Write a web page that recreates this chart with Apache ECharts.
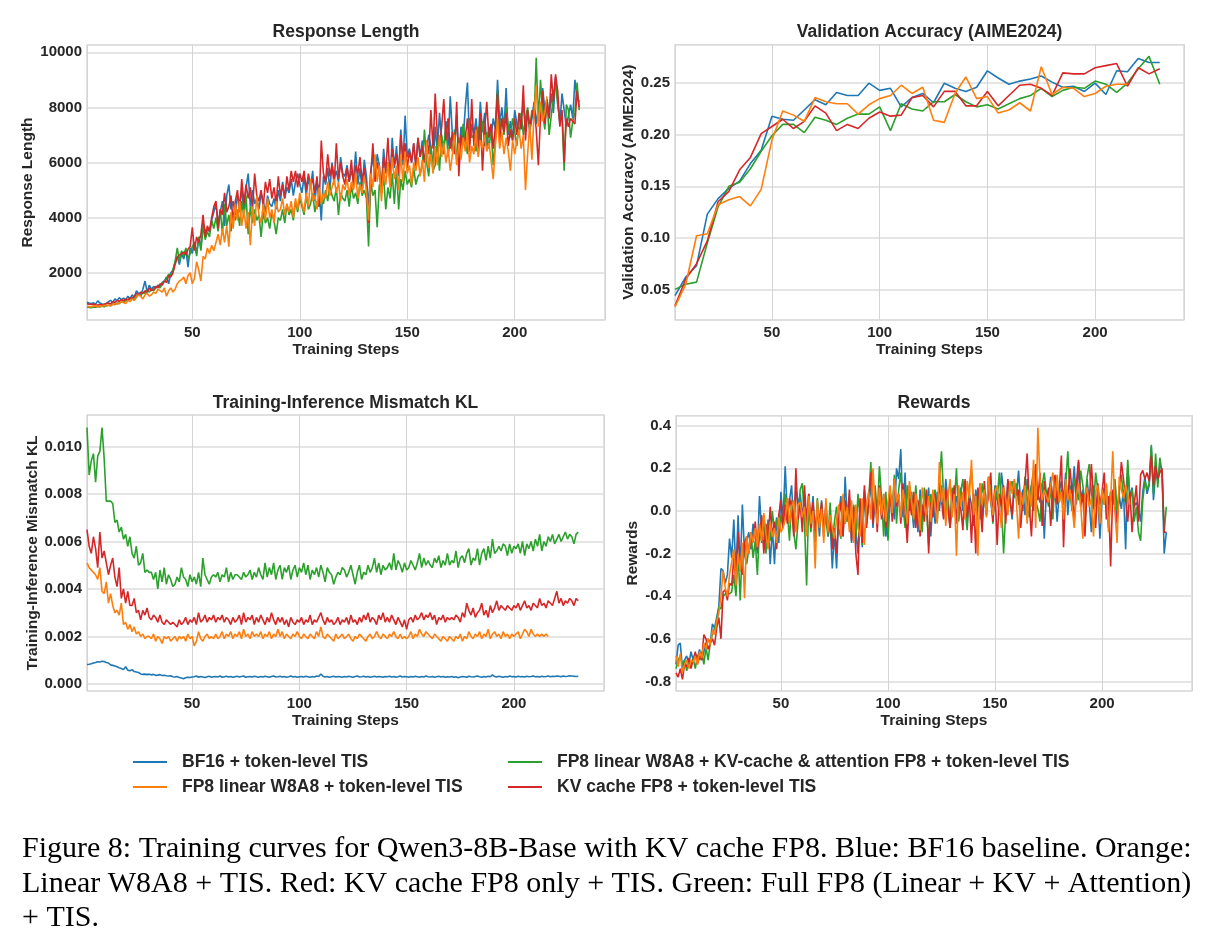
<!DOCTYPE html>
<html><head><meta charset="utf-8">
<script src="https://cdn.jsdelivr.net/npm/echarts@6/dist/echarts.min.js"></script>
<style>html,body{margin:0;padding:0;background:#fff}#c{width:1217px;height:943px}</style>
</head><body><div id="c"></div>
<script>
const seriesNames = ['BF16 + token-level TIS','FP8 linear W8A8 + token-level TIS','FP8 linear W8A8 + KV-cache & attention FP8 + token-level TIS','KV cache FP8 + token-level TIS'];
const panelTitles = ['Response Length','Validation Accuracy (AIME2024)','Training-Inference Mismatch KL','Rewards'];
const yNames = ['Response Length','Validation Accuracy (AIME2024)','Training-Inference Mismatch KL','Rewards'];
const xName = 'Training Steps';
const captionLines = ['Figure 8: Training curves for Qwen3-8B-Base with KV cache FP8. Blue: BF16 baseline. Orange:','Linear W8A8 + TIS. Red: KV cache FP8 only + TIS. Green: Full FP8 (Linear + KV + Attention)','+ TIS.'];

// ---- Response Length (steps 1..) ----
const respBlue = [930,900,880,910,860,980,900,870,850,890,950,1000,920,1050,980,1100,1020,1080,1000,1150,1050,1200,1100,1350,1250,1200,1400,1700,1300,1550,1400,1500,1450,1550,1500,1650,1700,1850,1600,2000,2100,2400,2600,2300,2700,2500,2850,2200,2900,2700,3100,2700,3300,2900,3800,3500,3600,3500,3900,4200,4500,3800,4200,4600,3700,4800,5200,4300,4600,4100,4800,4500,5000,4200,5100,5600,4400,5000,4500,4700,4300,4900,4600,4200,4800,4500,4400,4700,4300,5000,4600,5300,4700,5100,4900,5400,4800,5300,5600,5200,4900,5500,4800,5400,5100,5700,4600,5300,5000,3900,5500,5200,5800,5000,6000,5400,5700,5300,6200,5600,5500,5900,5300,5700,5400,6400,5200,5800,5000,6100,5500,4400,5700,6200,5400,6300,5900,5100,6500,5600,6000,5300,6900,5800,6600,5500,7200,5900,7700,6200,6500,6000,6700,5800,6900,6200,6800,6000,6500,7000,6600,5800,7300,6400,7800,6800,6300,7500,6600,8400,7000,6500,7700,6200,7300,6800,8000,8900,6700,7400,7000,7600,6600,8200,7100,7800,6500,7300,6900,7600,7200,9000,7400,8000,7200,8700,7000,7500,6800,7900,7400,7000,7600,8100,7300,7800,7100,7600,8200,7400,8000,7500,8700,7900,8300,7600,8500,7800,9100,8200,7400,8500,7900,7300,7700,8100,7600,9000,8400,8200];
const respOrange = [780,770,760,800,790,760,800,780,820,790,830,800,850,880,860,900,950,920,880,1000,950,1050,1000,1100,1200,1150,1050,1200,1250,1150,1200,1300,1250,1400,1350,1300,1450,1150,1350,1450,1300,1400,1600,1700,1750,1850,1600,1900,2000,1600,1800,2400,2100,1700,2600,2500,2900,2700,3000,2800,3100,3400,3000,3600,3100,3700,2950,4200,3600,4500,3900,4600,3700,4300,3600,4200,3000,4400,3700,4800,4100,3800,4500,3900,4700,4000,4300,3800,4600,4200,4300,4700,4100,4500,4200,4600,4000,4700,4300,4900,4500,4200,4900,4400,5400,4600,4800,4300,5100,4500,4900,4700,5300,4800,5100,5400,4900,5300,4600,5200,5000,5400,4800,5300,5000,5600,4700,5200,4900,5500,5000,3900,5600,5100,6300,5300,5900,4600,5800,5200,6000,5100,6200,5400,5900,5000,6300,5300,6400,5600,5900,5200,6000,5700,6200,5500,6100,5300,6800,5800,6300,5600,6600,5900,7000,6200,6700,6000,6500,5700,6300,7000,5900,6700,6100,6900,6400,7100,6000,6600,6300,7200,6200,6800,6500,7000,6400,6700,6100,5400,6600,7600,6500,7100,6300,6900,6400,5700,6800,6300,6800,7200,6500,7000,5000,6300,7400,6100,7800,8800,7300,8200,7500,7800,8400];
const respGreen = [760,740,730,760,750,780,760,790,770,800,820,800,870,840,900,880,950,920,1000,980,1050,1100,1000,1150,1200,1150,1300,1250,1350,1300,1400,1350,1450,1500,1450,1600,1700,1800,1950,1900,2100,2400,2900,2400,2800,2600,2900,2500,2700,2950,3100,2600,3300,2800,3700,3200,3500,3300,3900,3600,4000,3500,4300,3400,4500,3700,4100,3500,4200,3900,4300,3700,4600,4000,4800,3400,4400,3800,4300,3900,4100,3300,4200,3800,4000,3600,4200,3900,3400,4000,3900,4300,3800,4500,4100,4300,3900,4600,4200,4700,4400,4100,4800,4300,4500,4900,4200,4600,4400,4700,4500,5000,4600,5200,4800,4600,5100,4100,4900,4700,4600,5000,4400,5200,4700,4900,4500,5300,4800,5000,4700,2950,5300,4800,5000,3650,5200,4900,5500,4300,5100,4700,5600,4500,5800,4300,5400,5000,5700,5200,5400,5100,5800,5200,5500,5600,5900,7200,6000,5500,6600,5700,5900,6800,5700,7000,6500,7300,6200,6900,6400,7200,6100,6900,6600,7400,6800,6300,7600,6900,7000,6400,7300,6800,7500,6600,7100,6500,7200,5900,6800,8600,7200,7600,7000,8000,7300,6900,7600,7100,6600,7500,7800,7000,7600,8000,7200,7900,7600,9800,7500,9000,7800,7200,8300,7000,7700,8400,8900,8100,7500,7700,5700,8100,7900,6900,7500,7800,8900,7900];
const respRed = [880,860,850,870,840,830,850,820,860,880,900,870,950,920,1000,960,1030,980,1050,1000,1100,1050,1150,1250,1200,1300,1250,1350,1300,1450,1350,1400,1500,1450,1600,1550,1700,1650,1900,1850,2000,2300,2550,2650,2700,2750,2650,2850,2950,3650,2800,3300,3100,3400,4100,3300,3700,3500,4000,4400,4600,3600,4300,4100,4900,4200,4400,4800,3800,4600,5000,4200,5400,4500,5200,4700,5100,4300,5600,4800,4600,5000,4400,5300,4900,5400,4700,5100,4500,5500,4800,5200,4700,5500,5000,5700,5300,5700,5100,5600,5300,5700,5000,5600,5200,5400,4900,5500,4400,6800,5600,5300,6300,5500,5900,5200,6700,5400,6000,5500,5200,5800,5300,6100,5100,5900,5600,6200,5300,5800,5100,3800,5500,6700,5300,6000,5600,4900,6200,5700,6900,5400,6500,5900,6300,5600,7000,6100,6700,5800,6400,6000,6700,5900,6900,6200,6600,6000,6800,6300,7900,6500,8500,7000,6600,7300,8300,6800,7600,6500,7100,6300,8200,5500,7000,6700,6900,7600,6400,8300,6600,7300,6300,7800,5700,7200,8200,6900,7400,6500,7300,8500,6700,7600,7100,7800,6600,7200,6800,7600,7000,7800,7200,8800,6800,7900,7300,7700,8000,7200,5900,7700,8600,7400,8300,7600,9200,8200,9200,8600,7300,7900,6000,7600,7300,7600,7500,7400,8600,8000];

// ---- Validation accuracy (every 5 steps) ----
const valSteps = [5,10,15,20,25,30,35,40,45,50,55,60,65,70,75,80,85,90,95,100,105,110,115,120,125,130,135,140,145,150,155,160,165,170,175,180,185,190,195,200,205,210,215,220,225,230];
const valBlue = [0.044,0.062,0.073,0.123,0.138,0.148,0.155,0.172,0.185,0.218,0.215,0.214,0.224,0.234,0.229,0.241,0.238,0.238,0.250,0.243,0.245,0.227,0.236,0.240,0.231,0.250,0.245,0.242,0.246,0.262,0.255,0.249,0.252,0.254,0.257,0.251,0.246,0.247,0.242,0.250,0.239,0.262,0.261,0.274,0.270,0.270];
const valOrange = [0.033,0.055,0.102,0.104,0.132,0.137,0.140,0.131,0.147,0.195,0.223,0.219,0.213,0.236,0.232,0.230,0.230,0.220,0.229,0.235,0.238,0.248,0.240,0.246,0.214,0.212,0.240,0.256,0.235,0.237,0.221,0.224,0.231,0.223,0.266,0.239,0.246,0.245,0.237,0.240,0.247,0.249,0.249];
const valGreen = [0.050,0.055,0.057,0.095,0.130,0.150,0.154,0.167,0.184,0.199,0.210,0.210,0.202,0.217,0.214,0.210,0.216,0.220,0.220,0.227,0.204,0.230,0.225,0.223,0.232,0.232,0.239,0.232,0.227,0.229,0.225,0.230,0.235,0.238,0.245,0.237,0.243,0.246,0.245,0.252,0.249,0.241,0.250,0.264,0.276,0.249];
const valRed = [0.034,0.060,0.075,0.097,0.135,0.145,0.166,0.178,0.201,0.208,0.215,0.206,0.213,0.228,0.221,0.204,0.210,0.206,0.216,0.222,0.218,0.219,0.236,0.238,0.227,0.242,0.242,0.228,0.228,0.242,0.228,0.238,0.248,0.249,0.245,0.238,0.260,0.259,0.259,0.265,0.267,0.269,0.247,0.265,0.259,0.264];

// ---- Training-inference mismatch KL (steps 1..) ----
const klBlue = [.00082,.00083,.00085,.00088,.00090,.00093,.00092,.00095,.00094,.00090,.00088,.00080,.00078,.00075,.00072,.00068,.00065,.00060,.00072,.00058,.00055,.00060,.00052,.00050,.00048,.00042,.00040,.00041,.00039,.00041,.00038,.00040,.00036,.00037,.00039,.00035,.00036,.00034,.00033,.00034,.00030,.00029,.00031,.00027,.00025,.00022,.00026,.00028,.00027,.00029,.00030,.00033,.00028,.00031,.00029,.00027,.00030,.00032,.00028,.00030,.00031,.00029,.00033,.00028,.00030,.00032,.00029,.00031,.00028,.00030,.00032,.00029,.00031,.00033,.00028,.00030,.00031,.00029,.00032,.00030,.00028,.00031,.00029,.00032,.00030,.00028,.00031,.00033,.00029,.00030,.00032,.00029,.00031,.00028,.00030,.00033,.00029,.00031,.00028,.00030,.00031,.00029,.00032,.00030,.00028,.00031,.00029,.00033,.00031,.00042,.00032,.00029,.00031,.00028,.00030,.00032,.00029,.00031,.00030,.00028,.00031,.00029,.00032,.00030,.00028,.00031,.00033,.00029,.00030,.00032,.00029,.00031,.00028,.00030,.00032,.00029,.00031,.00030,.00028,.00031,.00030,.00032,.00029,.00031,.00028,.00030,.00033,.00029,.00031,.00030,.00028,.00031,.00029,.00032,.00030,.00028,.00031,.00029,.00033,.00030,.00029,.00031,.00028,.00030,.00032,.00029,.00031,.00028,.00030,.00029,.00031,.00028,.00030,.00026,.00029,.00031,.00030,.00028,.00032,.00030,.00029,.00031,.00033,.00030,.00028,.00031,.00029,.00032,.00030,.00038,.00031,.00029,.00032,.00030,.00028,.00031,.00029,.00033,.00030,.00031,.00029,.00032,.00030,.00031,.00029,.00032,.00030,.00031,.00033,.00030,.00031,.00029,.00032,.00030,.00031,.00033,.00030,.00032,.00031,.00033,.00032,.00030,.00033,.00031,.00032,.00034,.00033,.00032,.00031,.00032];
const klOrange = [.0051,.0049,.0048,.0047,.0046,.0044,.0049,.0039,.0038,.0043,.0034,.0038,.0033,.0030,.0031,.0029,.0034,.0025,.0026,.0023,.0025,.0022,.0024,.0021,.0022,.0020,.0021,.0019,.0020,.0020,.0019,.0021,.0018,.0020,.0019,.0017,.0020,.0019,.0020,.0018,.0019,.0020,.0018,.0020,.0019,.0020,.0018,.0021,.0019,.0020,.0016,.0018,.0022,.0019,.0018,.0020,.0021,.0019,.0020,.0019,.0021,.0019,.0020,.0022,.0019,.0021,.0020,.0022,.0019,.0021,.0020,.0022,.0019,.0023,.0020,.0021,.0019,.0022,.0020,.0021,.0020,.0022,.0019,.0021,.0020,.0022,.0019,.0021,.0020,.0023,.0020,.0022,.0019,.0021,.0020,.0019,.0021,.0020,.0022,.0020,.0019,.0021,.0020,.0019,.0021,.0020,.0019,.0022,.0020,.0024,.0020,.0019,.0021,.0020,.0019,.0018,.0021,.0019,.0020,.0021,.0019,.0020,.0021,.0019,.0018,.0020,.0019,.0021,.0020,.0019,.0018,.0020,.0021,.0019,.0020,.0022,.0020,.0019,.0021,.0020,.0019,.0021,.0020,.0022,.0020,.0019,.0021,.0019,.0020,.0019,.0020,.0022,.0019,.0021,.0020,.0023,.0021,.0020,.0022,.0021,.0020,.0019,.0021,.0020,.0019,.0018,.0020,.0019,.0018,.0020,.0019,.0018,.0020,.0019,.0021,.0018,.0020,.0019,.0022,.0020,.0019,.0021,.0020,.0022,.0019,.0021,.0020,.0023,.0019,.0021,.0022,.0020,.0021,.0019,.0022,.0020,.0021,.0019,.0021,.0020,.0021,.0022,.0019,.0021,.0023,.0022,.0020,.0023,.0021,.0020,.0021,.0020,.0021,.0020,.0021,.0020];
const klGreen = [.0108,.0088,.0094,.0097,.0085,.0096,.0098,.0108,.0095,.0077,.0077,.0077,.0076,.0068,.0069,.0064,.0066,.0061,.0063,.0058,.0062,.0055,.0053,.0058,.0050,.0051,.0055,.0047,.0048,.0047,.0047,.0044,.0047,.0040,.0048,.0043,.0049,.0042,.0046,.0044,.0041,.0042,.0045,.0043,.0049,.0045,.0044,.0041,.0046,.0043,.0045,.0042,.0047,.0041,.0053,.0046,.0044,.0042,.0045,.0046,.0045,.0047,.0043,.0046,.0045,.0049,.0043,.0047,.0044,.0046,.0046,.0045,.0044,.0047,.0045,.0046,.0048,.0044,.0047,.0045,.0049,.0046,.0044,.0051,.0045,.0049,.0046,.0051,.0044,.0048,.0050,.0044,.0049,.0047,.0050,.0044,.0048,.0050,.0045,.0049,.0047,.0051,.0046,.0050,.0044,.0048,.0046,.0049,.0045,.0050,.0047,.0043,.0049,.0047,.0046,.0042,.0045,.0047,.0046,.0049,.0048,.0045,.0047,.0050,.0046,.0042,.0047,.0050,.0044,.0047,.0046,.0050,.0047,.0049,.0053,.0047,.0051,.0046,.0050,.0048,.0049,.0051,.0048,.0055,.0048,.0052,.0050,.0047,.0051,.0048,.0049,.0052,.0050,.0048,.0051,.0055,.0049,.0053,.0050,.0052,.0050,.0049,.0053,.0051,.0054,.0049,.0052,.0050,.0055,.0050,.0052,.0051,.0056,.0049,.0053,.0054,.0051,.0055,.0057,.0050,.0053,.0052,.0057,.0050,.0055,.0057,.0052,.0058,.0053,.0061,.0055,.0056,.0058,.0056,.0059,.0058,.0054,.0059,.0055,.0058,.0057,.0059,.0055,.0060,.0054,.0059,.0057,.0060,.0056,.0061,.0058,.0063,.0056,.0060,.0058,.0062,.0060,.0063,.0059,.0061,.0063,.0060,.0062,.0064,.0061,.0063,.0062,.0059,.0063,.0064];
const klRed = [.0065,.0058,.0055,.0062,.0057,.0049,.0064,.0053,.0056,.0051,.0046,.0050,.0053,.0045,.0041,.0049,.0036,.0040,.0034,.0039,.0033,.0033,.0036,.0030,.0031,.0027,.0031,.0029,.0032,.0028,.0027,.0029,.0028,.0026,.0029,.0026,.0025,.0027,.0026,.0025,.0026,.0025,.0024,.0027,.0025,.0026,.0028,.0025,.0027,.0026,.0028,.0025,.0030,.0026,.0027,.0029,.0026,.0028,.0027,.0029,.0026,.0028,.0027,.0029,.0026,.0028,.0027,.0025,.0028,.0026,.0027,.0029,.0025,.0030,.0026,.0028,.0027,.0029,.0025,.0028,.0026,.0029,.0027,.0025,.0028,.0026,.0030,.0027,.0025,.0028,.0026,.0028,.0025,.0027,.0024,.0028,.0026,.0025,.0027,.0026,.0028,.0025,.0027,.0026,.0029,.0025,.0027,.0026,.0028,.0030,.0027,.0025,.0028,.0026,.0027,.0025,.0026,.0028,.0025,.0027,.0026,.0028,.0025,.0029,.0026,.0027,.0025,.0028,.0026,.0029,.0027,.0030,.0026,.0028,.0027,.0025,.0029,.0027,.0030,.0026,.0028,.0026,.0029,.0027,.0025,.0028,.0026,.0024,.0027,.0023,.0027,.0028,.0026,.0029,.0027,.0028,.0030,.0027,.0029,.0028,.0030,.0027,.0029,.0025,.0028,.0027,.0029,.0026,.0028,.0027,.0028,.0027,.0029,.0028,.0026,.0030,.0028,.0034,.0031,.0029,.0032,.0028,.0030,.0031,.0034,.0029,.0031,.0028,.0033,.0030,.0032,.0035,.0031,.0033,.0032,.0031,.0033,.0032,.0031,.0033,.0032,.0034,.0031,.0033,.0035,.0032,.0033,.0031,.0034,.0033,.0032,.0036,.0033,.0034,.0032,.0035,.0034,.0033,.0036,.0039,.0034,.0036,.0033,.0035,.0034,.0036,.0035,.0033,.0036,.0035];

// ---- Rewards (steps 1..) ----
const rewBlue = [-0.72,-0.63,-0.62,-0.74,-0.70,-0.68,-0.72,-0.66,-0.70,-0.67,-0.69,-0.65,-0.70,-0.66,-0.62,-0.60,-0.62,-0.53,-0.55,-0.50,-0.45,-0.27,-0.28,-0.34,-0.30,-0.13,-0.22,-0.04,-0.30,-0.02,-0.28,0.03,-0.20,-0.14,-0.10,-0.18,-0.06,-0.12,-0.20,0.07,-0.10,-0.02,-0.18,-0.04,-0.25,-0.08,-0.25,-0.03,-0.15,0.09,-0.05,0.21,-0.02,0.05,0.12,-0.08,0.11,0.03,0.08,-0.02,0.04,-0.10,0.08,-0.05,0.07,-0.15,0.02,-0.12,0.05,-0.10,0.03,-0.12,-0.05,-0.27,-0.10,-0.27,-0.02,0.07,-0.12,0.16,-0.05,0.04,-0.15,0.02,-0.10,-0.20,0.05,-0.17,0.09,-0.05,0.03,0.13,-0.08,0.06,-0.04,0.10,-0.02,0.08,-0.12,-0.05,0.08,0.05,-0.04,0.20,0.15,0.29,-0.03,0.18,-0.10,0.12,0.03,-0.08,0.06,-0.10,0.10,-0.05,0.08,-0.02,0.11,-0.12,0.06,-0.06,0.09,0.00,0.12,-0.03,0.15,0.04,-0.08,0.10,0.02,0.07,-0.04,0.11,0.00,0.14,-0.06,0.08,0.03,-0.07,0.10,0.02,0.13,-0.05,0.08,-0.02,0.16,0.04,-0.03,0.12,0.06,-0.02,0.18,0.09,0.00,0.14,0.05,-0.04,0.13,0.07,0.19,0.03,0.10,-0.02,0.15,0.06,0.12,0.00,0.17,0.08,0.04,0.13,-0.13,0.10,0.06,0.16,0.02,0.11,-0.05,0.09,0.14,0.05,0.18,-0.02,0.12,0.08,0.21,0.03,0.23,0.06,0.10,-0.05,0.15,0.04,-0.10,0.12,0.02,0.08,-0.13,0.06,0.11,0.02,-0.08,0.09,0.03,0.14,-0.04,0.07,0.01,0.10,-0.18,0.20,0.06,0.11,0.02,0.04,0.01,-0.05,0.09,0.16,0.08,0.12,0.30,0.05,0.18,0.14,0.22,0.19,-0.20,-0.10];
const rewOrange = [-0.68,-0.73,-0.67,-0.76,-0.72,-0.70,-0.74,-0.70,-0.71,-0.68,-0.72,-0.66,-0.69,-0.62,-0.65,-0.60,-0.63,-0.56,-0.58,-0.52,-0.48,-0.40,-0.28,-0.36,-0.40,-0.30,-0.24,-0.18,-0.35,-0.20,-0.28,-0.15,-0.41,-0.12,-0.20,-0.10,-0.15,-0.08,-0.17,-0.06,-0.14,-0.01,-0.10,-0.18,-0.05,-0.12,-0.08,-0.15,-0.03,-0.10,-0.08,-0.04,0.06,-0.06,0.02,0.05,-0.10,0.03,0.04,-0.03,0.02,-0.12,0.07,-0.06,0.00,-0.27,0.05,-0.08,0.01,-0.15,0.06,-0.10,-0.02,-0.08,-0.13,-0.04,0.03,-0.12,0.08,-0.06,0.02,-0.10,0.05,-0.15,0.03,-0.08,-0.12,0.06,-0.16,0.04,0.09,-0.04,0.20,0.02,-0.06,0.11,-0.02,0.08,-0.05,0.04,0.12,-0.01,0.15,0.04,0.08,-0.03,0.10,0.02,-0.06,0.14,0.05,-0.04,0.08,0.01,-0.09,0.11,0.03,-0.02,0.07,-0.05,0.10,0.03,-0.06,0.23,0.04,0.11,-0.07,0.06,0.15,-0.03,0.08,-0.21,0.12,0.02,0.09,-0.04,0.14,0.06,0.24,-0.02,0.07,-0.21,0.13,0.03,0.10,-0.03,0.16,0.05,-0.02,0.09,0.12,0.02,-0.08,0.11,0.06,-0.02,0.14,0.08,0.15,0.04,-0.13,0.09,0.03,0.12,-0.06,0.10,0.02,0.24,-0.08,0.39,0.15,0.05,0.10,0.07,0.04,0.12,0.18,0.06,0.17,0.04,0.09,-0.04,0.15,0.05,0.10,0.02,-0.08,0.08,0.13,0.03,-0.13,0.07,0.11,0.02,0.06,-0.12,0.09,0.12,-0.06,0.10,0.03,0.13,-0.10,0.05,0.28,0.00,-0.15,0.16,0.10,0.06,0.12,0.08,0.03];
const rewGreen = [-0.74,-0.70,-0.68,-0.72,-0.70,-0.75,-0.70,-0.72,-0.69,-0.74,-0.68,-0.70,-0.66,-0.72,-0.64,-0.70,-0.62,-0.58,-0.55,-0.52,-0.45,-0.46,-0.40,-0.39,-0.38,-0.39,-0.38,-0.30,-0.40,-0.20,-0.42,-0.15,-0.20,-0.25,-0.18,-0.10,-0.22,-0.14,-0.30,-0.08,-0.15,-0.03,-0.20,-0.06,-0.14,0.00,-0.10,-0.04,-0.12,-0.02,-0.08,0.08,0.00,-0.14,0.05,-0.10,-0.18,-0.05,0.10,0.13,-0.05,-0.35,0.05,-0.10,0.02,-0.15,0.06,-0.05,0.02,-0.08,-0.03,-0.12,0.04,-0.15,-0.05,0.02,-0.08,-0.13,0.05,-0.06,-0.02,0.06,-0.10,0.03,-0.12,0.08,-0.03,-0.16,0.10,-0.06,0.04,0.23,-0.05,0.12,-0.02,0.21,0.06,-0.12,0.09,-0.14,0.05,0.01,0.17,-0.06,0.10,0.18,0.03,-0.08,0.12,0.00,0.09,-0.05,0.12,-0.03,0.07,-0.10,0.11,0.01,-0.16,0.08,0.02,0.10,-0.05,0.14,0.28,0.06,-0.02,0.08,-0.08,0.11,0.04,0.20,-0.05,0.09,0.15,0.01,-0.09,0.12,0.19,0.04,0.00,0.10,-0.04,0.13,0.06,-0.02,0.16,0.08,-0.06,0.11,0.05,0.18,0.03,-0.20,0.00,0.00,0.10,0.14,0.06,0.13,0.03,0.09,0.00,0.16,0.06,-0.03,0.12,0.19,0.05,0.01,-0.05,0.12,0.18,0.08,0.02,0.11,-0.04,0.16,0.09,0.04,0.10,0.03,0.13,0.28,0.08,0.00,0.15,0.10,0.05,0.19,0.12,0.04,0.16,0.22,0.09,0.01,0.18,0.10,-0.05,0.07,0.03,0.12,-0.02,0.09,0.05,0.15,0.00,0.10,0.17,0.06,0.04,0.24,0.05,0.10,-0.05,0.02,-0.10,-0.14,0.05,0.14,0.10,0.13,0.31,0.08,0.27,0.11,0.25,0.18,-0.10,0.02];
const rewRed = [-0.76,-0.78,-0.74,-0.79,-0.72,-0.73,-0.69,-0.74,-0.70,-0.66,-0.72,-0.68,-0.70,-0.58,-0.60,-0.65,-0.62,-0.60,-0.63,-0.55,-0.50,-0.60,-0.38,-0.37,-0.42,-0.34,-0.35,-0.22,-0.34,-0.10,-0.26,-0.30,-0.15,-0.12,-0.20,-0.10,-0.15,-0.05,-0.18,-0.12,-0.02,-0.20,-0.06,-0.15,0.02,-0.12,-0.05,-0.18,-0.02,0.05,-0.08,0.03,-0.06,0.06,0.02,-0.12,0.20,-0.04,0.04,-0.10,0.12,-0.05,0.08,-0.08,0.04,-0.10,0.01,-0.06,0.04,-0.12,0.02,-0.10,-0.03,-0.18,-0.08,-0.20,-0.02,0.04,-0.12,0.05,-0.04,0.10,-0.14,0.02,-0.20,-0.30,0.06,-0.15,0.12,-0.08,0.05,0.18,-0.06,0.09,-0.10,0.12,-0.04,0.06,-0.08,0.02,0.10,-0.05,0.15,0.02,0.08,-0.06,0.13,0.00,-0.15,0.06,-0.02,0.09,-0.08,0.05,-0.12,0.03,-0.05,0.10,-0.20,0.04,-0.03,0.08,-0.01,0.13,0.05,-0.04,0.10,0.02,-0.08,0.06,0.12,-0.06,0.09,0.01,-0.09,0.15,-0.03,0.06,-0.15,0.08,-0.20,0.11,0.03,-0.10,0.14,0.00,0.08,0.18,-0.05,0.10,-0.16,0.08,0.02,0.12,-0.06,0.15,0.05,-0.02,0.14,0.07,0.10,-0.08,0.06,0.13,0.27,0.03,-0.12,0.10,0.22,0.05,0.18,-0.07,0.14,0.04,0.11,-0.07,0.08,0.17,0.03,0.10,0.26,-0.17,0.12,0.05,0.20,0.09,-0.06,0.13,0.24,0.02,0.08,-0.12,0.11,0.04,0.22,0.06,-0.08,0.13,0.03,0.09,0.18,-0.04,0.07,-0.26,0.10,0.02,-0.06,0.08,0.23,0.15,0.05,-0.05,0.09,-0.10,0.03,0.12,-0.05,0.17,0.19,0.15,0.18,0.14,0.26,0.12,0.21,0.15,0.18,0.20,-0.10,-0.10];

const colors = {blue:'#1f77b4', orange:'#ff7f0e', green:'#2ca02c', red:'#d62728'};
const FONT = '"Liberation Sans", Arial, Helvetica, sans-serif';
const TXT = '#262626';

const grids = [
  {left:87, top:45, width:518, height:275},
  {left:675, top:44.5, width:509, height:275.5},
  {left:87, top:415, width:517, height:276},
  {left:676, top:415.5, width:516, height:275.5}
];
const xRanges = [[1,242],[5,241.25],[1,242],[1,242]];
const yRanges = [[286,10264],[0.0203,0.2875],[-0.0003,0.01133],[-0.845,0.448]];
const yStep = [2000,0.05,0.002,0.2];
const yDec = [0,2,3,1];
const yNameGap = [51,38,46,35];

function fmt(step, dec){
  return function(v){
    const k = Math.round(v/step);
    if (Math.abs(v - k*step) > step*1e-3) return '';
    let r = k*step; if (Math.abs(r) < 1e-12) r = 0;
    return r.toFixed(dec);
  };
}

const xAxes = [], yAxes = [];
for (let p=0;p<4;p++){
  xAxes.push({type:'value', gridIndex:p, min:xRanges[p][0], max:xRanges[p][1], minInterval:50, maxInterval:50, splitNumber:5,
    name:xName, nameLocation:'middle', nameGap:22,
    nameTextStyle:{fontFamily:FONT, fontWeight:'bold', fontSize:15.5, color:TXT},
    axisLine:{show:false}, axisTick:{show:false},
    axisLabel:{fontFamily:FONT, fontWeight:'bold', fontSize:15, color:TXT, margin:5, formatter:fmt(50,0), showMinLabel:false, showMaxLabel:false},
    splitLine:{show:true, lineStyle:{color:'#d4d4d4', width:1}}
  });
  yAxes.push({type:'value', gridIndex:p, min:yRanges[p][0], max:yRanges[p][1], minInterval:yStep[p], maxInterval:yStep[p], splitNumber:5,
    name:yNames[p], nameLocation:'middle', nameGap:yNameGap[p], nameRotate:90,
    nameTextStyle:{fontFamily:FONT, fontWeight:'bold', fontSize:15.5, color:TXT},
    axisLine:{show:false}, axisTick:{show:false},
    axisLabel:{fontFamily:FONT, fontWeight:'bold', fontSize:15, color:TXT, margin:5, formatter:fmt(yStep[p],yDec[p]), showMinLabel:false, showMaxLabel:false},
    splitLine:{show:true, lineStyle:{color:'#dcdcdc', width:1.5}}
  });
}

function mk(name, color, p, data, xs){
  return {type:'line', name:name, xAxisIndex:p, yAxisIndex:p, showSymbol:false, symbol:'none',
    data: data.map((v,i)=>[xs ? xs[i] : i+1, v]),
    lineStyle:{color:color, width:1.6}, itemStyle:{color:color}, emphasis:{disabled:true}, animation:false};
}
const panels = [
  {blue:respBlue, orange:respOrange, green:respGreen, red:respRed, xs:null},
  {blue:valBlue, orange:valOrange, green:valGreen, red:valRed, xs:valSteps},
  {blue:klBlue, orange:klOrange, green:klGreen, red:klRed, xs:null},
  {blue:rewBlue, orange:rewOrange, green:rewGreen, red:rewRed, xs:null}
];
const series = [];
panels.forEach((d,p)=>{
  series.push(mk(seriesNames[0], colors.blue, p, d.blue, d.xs));
  series.push(mk(seriesNames[2], colors.green, p, d.green, d.xs));
  series.push(mk(seriesNames[3], colors.red, p, d.red, d.xs));
  series.push(mk(seriesNames[1], colors.orange, p, d.orange, d.xs));
});

const titlePos = [[346,32],[929.5,32],[345.5,403],[934,403]];
const graphic = [];
titlePos.forEach((tp,i)=>{
  graphic.push({type:'text', x:tp[0], y:tp[1], style:{text:panelTitles[i], font:'bold 17.5px '+FONT, fill:TXT, align:'center', verticalAlign:'middle', textAlign:'center', textVerticalAlign:'middle'}});
});
const capY = [849, 884, 918];
captionLines.forEach((t,i)=>{
  graphic.push({type:'text', x:22, y:capY[i], style:{text:t, font:'30px "Liberation Serif", "Times New Roman", serif', fill:'#000', align:'left', verticalAlign:'middle', textAlign:'left', textVerticalAlign:'middle'}});
});

const legendBase = {orient:'vertical', icon:'rect', itemWidth:34, itemHeight:2, itemGap:7, selectedMode:false,
  textStyle:{fontFamily:FONT, fontWeight:'bold', fontSize:17.5, color:TXT, padding:[0,0,0,10]}};
const legends = [
  Object.assign({}, legendBase, {left:128, top:748, data:[seriesNames[0], seriesNames[1]]}),
  Object.assign({}, legendBase, {left:503, top:748, data:[seriesNames[2], seriesNames[3]]})
];

const chart = echarts.init(document.getElementById('c'), null, {renderer:'canvas'});
chart.setOption({
  animation:false,
  backgroundColor:'#ffffff',
  grid: grids.map(g=>Object.assign({show:true, borderColor:'#cfcfcf', borderWidth:1.2, backgroundColor:'#fff'}, g)),
  xAxis: xAxes, yAxis: yAxes, series: series, legend: legends, graphic: graphic
});
</script></body></html>
